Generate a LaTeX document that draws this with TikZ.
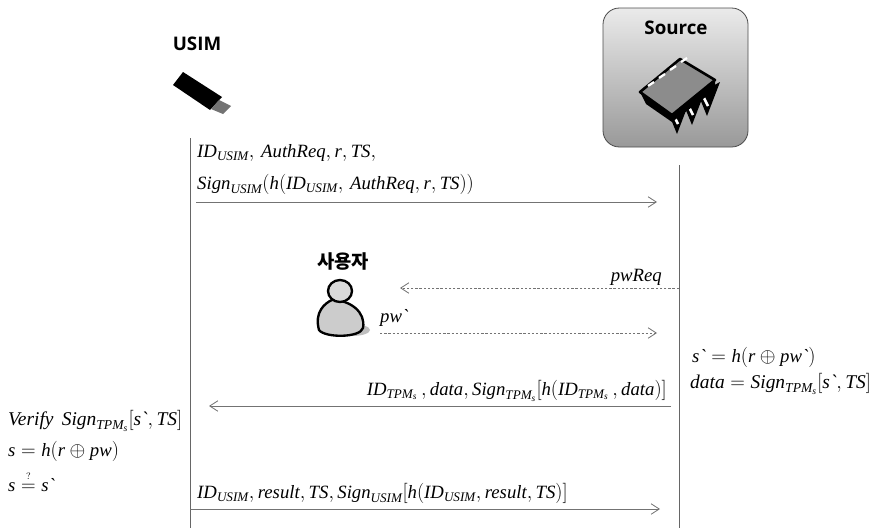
\documentclass[tikz,border=0pt]{standalone}
\usepackage{amsmath}
\usepackage{fontspec}
\setmainfont{Liberation Serif}
\newfontfamily\headfont{Open Sans}
\newfontfamily\cjkfont{Noto Sans CJK KR}
\usetikzlibrary{arrows.meta}
\newcommand{\tx}[1]{\textit{#1}}
\newcommand{\ID}{\tx{ID}}
\newcommand{\Sg}{\tx{Sign}}
\newcommand{\Us}{{\tx{USIM}}}
\newcommand{\Tp}{{\tx{TPM}_{\tx{s}}}}
\newcommand{\bq}{\tx{\textasciigrave}}
\tikzset{
  msg/.style={inner sep=0pt, anchor=base west, font=\fontsize{16}{18}\selectfont},
  msgr/.style={msg, anchor=base east},
  msgw/.style={font=\fontsize{16.6}{19}\selectfont},
  head/.style={inner sep=0pt, font=\headfont\bfseries\fontsize{16}{18}\selectfont},
  life/.style={draw=black!60, line width=0.6pt},
  call/.style={draw=black!55, line width=0.7pt, -{Straight Barb[length=7pt,width=9pt]}},
  dotcall/.style={call, dash pattern=on 2pt off 1.6pt}
}
\begin{document}
\begin{tikzpicture}[x=0.03cm, y=-0.03cm]
  \useasboundingbox (0,0) rectangle (873,531);
  % headers
  \node[head] (usim) at (197,44) {USIM};
  \node[head] (user) at (343,261) {\cjkfont\bfseries 사용자};
  % usb stick
  \fill[black] (183,72) -- (173,85) -- (210,110) -- (222,97) -- cycle;
  \fill[black!55] (219,100) -- (231,106) -- (223,114) -- (211,109) -- cycle;
  % source box
  \draw[black!70, rounded corners=14pt, top color=black!8, bottom color=black!40, line width=0.7pt]
    (603,8) rectangle (748,147);
  \node[head] (source) at (676,28) {Source};
  % chip
  \begin{scope}[line join=round]
    \foreach \x in {0,1,2} {
      \fill[black] (668+\x*15,112-\x*9) -- (677+\x*15,134-\x*9) -- (690+\x*15,100-\x*9) -- cycle;
      \draw[white, line width=2.2pt] (673+\x*15,114-\x*9) -- (678+\x*15,124-\x*9);
    }
    \fill[black] (640,92) -- (646,104) -- (672,122) -- (715,90) -- (715,80) -- cycle;
    \draw[black, line width=2.2pt, fill=black!45] (640,92) -- (680,59) -- (715,80) -- (672,115) -- cycle;
    \foreach \x in {0,1,2,3} \draw[white, line width=2pt] (648+\x*11,86-\x*8) -- (654+\x*11,82-\x*8);
  \end{scope}
  % user icon
  \fill[black!25] (352,330) ellipse (18 and 6);
  \draw[black, line width=2pt, fill=black!20] (319,330) .. controls (314,312) and (325,303) .. (332,300)
    .. controls (350,300) and (366,312) .. (363,328) .. controls (360,338) and (325,338) .. (319,330) -- cycle;
  \draw[black, line width=2pt, fill=black!15] (340,291) ellipse (12 and 11);
  % lifelines
  \coordinate (a0) at (190,138);
  \coordinate (a1) at (190,528);
  \coordinate (b0) at (679,165);
  \coordinate (b1) at (679,528);
  \draw[life] (a0) -- (a1);
  \draw[life] (b0) -- (b1);
  % message ends
  \coordinate (m1a) at (196,202);
  \coordinate (m1b) at (657,202);
  \coordinate (m2a) at (679,288);
  \coordinate (m2b) at (400,288);
  \coordinate (m3a) at (380,333);
  \coordinate (m3b) at (657,333);
  \coordinate (m4a) at (671,406);
  \coordinate (m4b) at (209,406);
  \coordinate (m5a) at (190,509);
  \coordinate (m5b) at (660,509);
  \draw[call] (m1a) -- (m1b);
  \draw[dotcall] (m2a) -- (m2b);
  \draw[dotcall] (m3a) -- (m3b);
  \draw[call] (m4a) -- (m4b);
  \draw[call] (m5a) -- (m5b);
  % labels
  \node[msg] (t1) at (197,157) {$\ID_\Us,\,\tx{AuthReq},\tx{r},\tx{TS},$};
  \node[msg] (t2) at (197,189) {$\Sg_\Us(\tx{h}(\ID_\Us,\,\tx{AuthReq},\tx{r},\tx{TS}))$};
  \node[msgr] (t3) at (662,281) {$\tx{pwReq}$};
  \node[msg] (t4) at (380,322) {$\tx{pw}\bq$};
  \node[msgr] (t5) at (667,395) {$\ID_\Tp\,,\tx{data},\Sg_\Tp[\tx{h}(\ID_\Tp\,,\tx{data})]$};
  \node[msg] (t6) at (197,498) {$\ID_\Us,\tx{result},\tx{TS},\Sg_\Us[\tx{h}(\ID_\Us,\tx{result},\tx{TS})]$};
  % right side
  \node[msg] (t7) at (692,362) {$\tx{s}\bq=\tx{h}(\tx{r}\oplus\tx{pw}\bq)$};
  \node[msg, msgw] (t8) at (690,388) {$\tx{data}=\Sg_\Tp[\tx{s}\bq,\tx{TS}]$};
  % left side
  \node[msg, msgw] (t9) at (8,425) {$\tx{Verify}\ \,\Sg_\Tp[\tx{s}\bq,\tx{TS}]$};
  \node[msg] (t10) at (8,456) {$\tx{s}=\tx{h}(\tx{r}\oplus\tx{pw})$};
  \node[msg] (t11) at (8,491) {$\tx{s}\overset{\scriptscriptstyle ?}{=}\tx{s}\bq$};
\end{tikzpicture}
\end{document}
